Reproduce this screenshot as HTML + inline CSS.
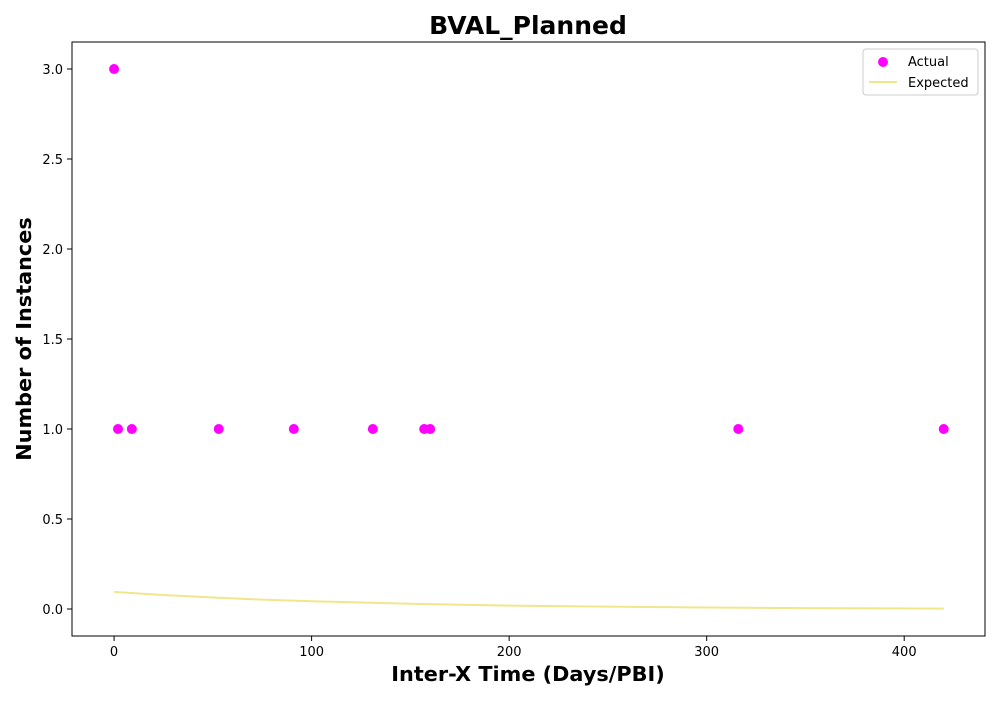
<!DOCTYPE html>
<html><head><meta charset="utf-8"><style>
body{margin:0;background:#fff;font-family:"Liberation Sans","DejaVu Sans",sans-serif;}
svg text{font-family:"DejaVu Sans","Liberation Sans",sans-serif;}
</style></head><body>
<svg id="chart" width="1000" height="700" xmlns="http://www.w3.org/2000/svg"></svg>
<script>
const actualX = [0, 2, 9, 53, 91, 131, 157, 160, 316, 420];
const actualY = [3, 1, 1, 1, 1, 1, 1, 1, 1, 1];
const expectedX = [0, 25, 50, 75, 100, 150, 200, 250, 300, 350, 420];
const expectedY = [0.095, 0.078, 0.064, 0.052, 0.043, 0.029, 0.019, 0.013, 0.008, 0.005, 0.002];
const xTicks = [0, 100, 200, 300, 400];
const yTicks = [0.0, 0.5, 1.0, 1.5, 2.0, 2.5, 3.0];

const L=72,R=985,T=42,B=636;
const xMin=-21.3,xMax=440.9,yMin=-0.15,yMax=3.15;
const sx=v=>L+(v-xMin)/(xMax-xMin)*(R-L);
const sy=v=>B-(v-yMin)/(yMax-yMin)*(B-T);
const svg=document.getElementById('chart');
const NS='http://www.w3.org/2000/svg';
function mk(tag,attrs,parent){const e=document.createElementNS(NS,tag);for(const k in attrs)e.setAttribute(k,attrs[k]);(parent||svg).appendChild(e);return e;}

let t=mk('text',{x:528,y:34,'text-anchor':'middle','font-size':25,'font-weight':'bold'});t.textContent='BVAL_Planned';



const frame=mk('rect',{x:L,y:T,width:R-L,height:B-T,fill:'none',stroke:'#000','stroke-width':1});



xTicks.forEach(v=>{const x=sx(v);
 const l=mk('line',{x1:x,x2:x,y1:B,y2:B+5,stroke:'#000'});
 
 
 const tx=mk('text',{x:x,y:B+20,'text-anchor':'middle','font-size':13});tx.textContent=v;
 
 
});
yTicks.forEach(v=>{const y=sy(v);
 const l=mk('line',{x1:L-5,x2:L,y1:y,y2:y,stroke:'#000'});
 
 
 const tx=mk('text',{x:L-9,y:y+5,'text-anchor':'end','font-size':13});tx.textContent=v.toFixed(1);
 
 
});

t=mk('text',{x:528,y:681,'text-anchor':'middle','font-size':20.8,'font-weight':'bold'});t.textContent='Inter-X Time (Days/PBI)';


t=mk('text',{x:31,y:339,'text-anchor':'middle','font-size':20.8,'font-weight':'bold',transform:'rotate(-90 31 339)'});t.textContent='Number of Instances';



const pts=expectedX.map((x,i)=>sx(x)+','+sy(expectedY[i])).join(' ');
const line=mk('polyline',{points:pts,fill:'none',stroke:'#f0e68c','stroke-width':2});



actualX.forEach((x,i)=>{
 const c=mk('circle',{cx:sx(x),cy:sy(actualY[i]),r:5,fill:'#ff00ff'});
 
 
});

const lg=mk('g',{});


mk('rect',{x:863,y:49,width:115,height:46,rx:3,fill:'#fff',stroke:'#ccc'},lg);
mk('circle',{cx:883,cy:62,r:5,fill:'#ff00ff'},lg);
t=mk('text',{x:908,y:66,'font-size':13},lg);t.textContent='Actual';


mk('line',{x1:869,x2:897,y1:82,y2:82,stroke:'#f0e68c','stroke-width':2},lg);
t=mk('text',{x:908,y:87,'font-size':13},lg);t.textContent='Expected';


</script>
</body></html>
